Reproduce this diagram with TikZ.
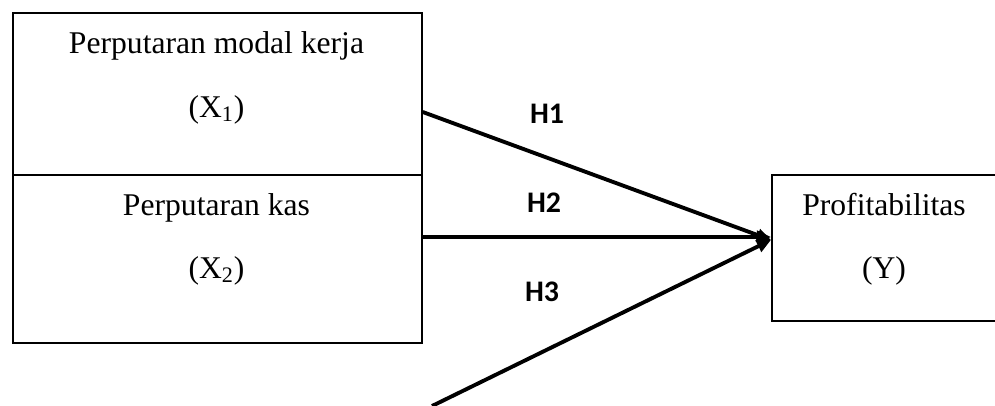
\documentclass[tikz,border=0pt]{standalone}
\usepackage{fontspec}
\setmainfont{Liberation Serif}
\newfontfamily\hfont{Carlito}
\usepackage{tikz}
\usetikzlibrary{arrows.meta,calc,positioning}

\tikzset{
    varbox/.style={draw, line width=1pt, inner sep=0pt, anchor=north west},
    vartext/.style={anchor=base, inner sep=0pt, font=\fontsize{18}{20}\selectfont},
    hyplabel/.style={inner sep=0pt, font=\hfont\bfseries\fontsize{17}{19}\selectfont},
    hyparrow/.style={line width=2.2pt, -{Triangle[length=8pt,width=7pt]}}
}

\begin{document}
\begin{tikzpicture}[x=0.02cm, y=-0.02cm]
            \useasboundingbox (0,0) rectangle (995,406);
            % Draw the variable boxes
            \node[varbox, minimum width=409*0.02cm, minimum height=162*0.02cm] (x1) at (12,12) {};
            \node[varbox, minimum width=409*0.02cm, minimum height=168*0.02cm] (x2) at (12,174) {};
            \node[varbox, minimum width=226*0.02cm, minimum height=146*0.02cm] (y) at (771,174) {};
            % Texts of the boxes
            \node[vartext] (x1name) at (216.5,53) {Perputaran modal kerja};
            \node[vartext] (x1sym) at (216.5,117) {(X\textsubscript{1})};
            \node[vartext] (x2name) at (216.5,215) {Perputaran kas};
            \node[vartext] (x2sym) at (216.5,278) {(X\textsubscript{2})};
            \node[vartext] (yname) at (884,215) {Profitabilitas};
            \node[vartext] (ysym) at (884,278) {(Y)};
            % Ends of the arrows
            \coordinate (h1start) at (x1.east |- 0,112);
            \coordinate (h2start) at (x2.east |- 0,237);
            \coordinate (h3start) at (432,406);
            \coordinate (tip) at (771,240);
            % Draw the arrows
            \draw[hyparrow] (h1start) -- (tip);
            \draw[hyparrow] (h2start) -- (tip |- h2start);
            \draw[hyparrow] (h3start) -- (tip);
            % Label the hypotheses
            \node[hyplabel] (h1) at (547,113.5) {H1};
            \node[hyplabel] (h2) at (544,203) {H2};
            \node[hyplabel] (h3) at (542,292) {H3};
          \end{tikzpicture}
\end{document}
